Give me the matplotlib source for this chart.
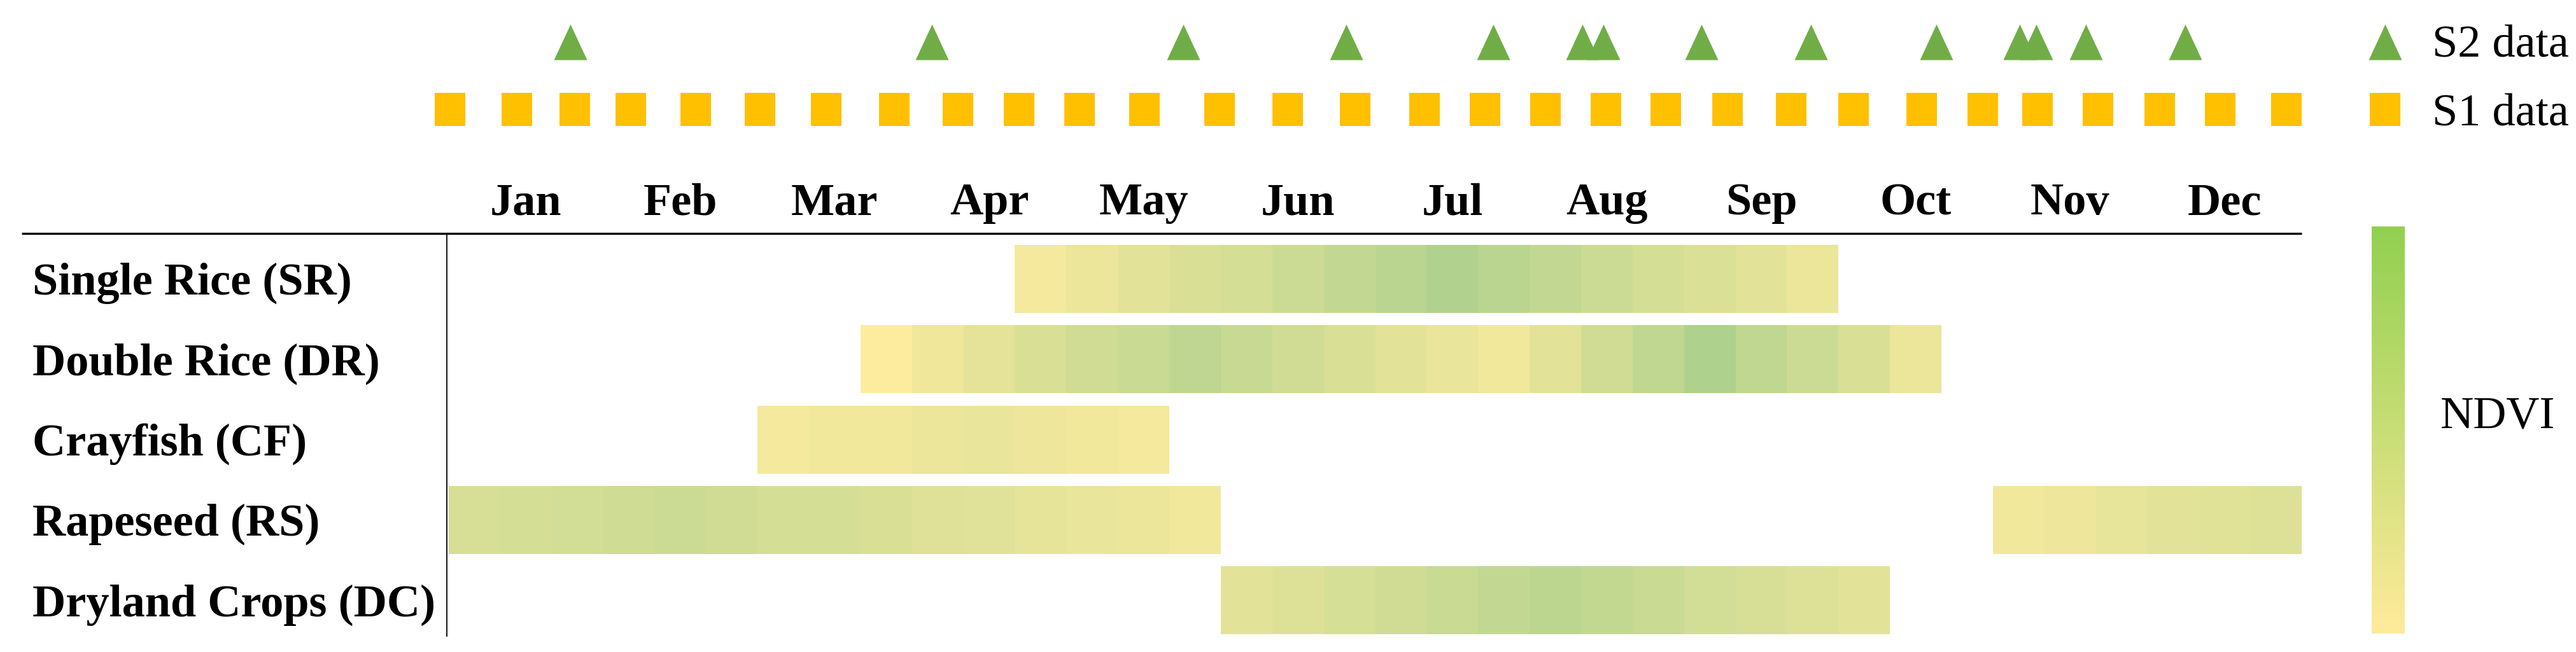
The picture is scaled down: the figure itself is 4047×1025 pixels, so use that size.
# Crop calendar: NDVI per 10-day period + S1/S2 acquisition dates

import numpy as np
import matplotlib
matplotlib.use('Agg')
import matplotlib.pyplot as plt
from matplotlib.colors import LinearSegmentedColormap

months = ['Jan', 'Feb', 'Mar', 'Apr', 'May', 'Jun',
          'Jul', 'Aug', 'Sep', 'Oct', 'Nov', 'Dec']
crops = ['Single Rice (SR)', 'Double Rice (DR)', 'Crayfish (CF)',
         'Rapeseed (RS)', 'Dryland Crops (DC)']

# relative NDVI level (0 = low, 1 = high) per dekad, with first dekad of each run
sr_start = 11
sr_ndvi = [0.10, 0.20, 0.30, 0.40, 0.45, 0.55, 0.65, 0.75,
           0.85, 0.75, 0.65, 0.55, 0.45, 0.38, 0.30, 0.20]
dr_start = 8
dr_ndvi = [0.00, 0.15, 0.28, 0.40, 0.50, 0.58, 0.70, 0.60, 0.50, 0.40, 0.30,
           0.22, 0.12, 0.30, 0.50, 0.68, 0.88, 0.68, 0.55, 0.40, 0.20]
cf_start = 6
cf_ndvi = [0.10, 0.13, 0.14, 0.20, 0.23, 0.18, 0.14, 0.10]
rs_start = 0
rs_ndvi = [0.42, 0.45, 0.48, 0.52, 0.55, 0.50, 0.46, 0.46,
           0.40, 0.35, 0.33, 0.27, 0.23, 0.19, 0.14]
rs2_start = 30
rs2_ndvi = [0.14, 0.18, 0.24, 0.30, 0.32, 0.36]
dc_start = 15
dc_ndvi = [0.30, 0.36, 0.43, 0.50, 0.58, 0.65, 0.72,
           0.66, 0.58, 0.48, 0.42, 0.36, 0.30]

# acquisition dates, day of year
s1_doy = [0.2, 13.4, 24.8, 35.9, 48.6, 61.3, 74.3, 87.8, 100.3, 112.3,
          124.3, 137.0, 151.8, 165.3, 178.5, 192.2, 204.1, 216.1, 227.9, 239.8,
          251.9, 264.5, 276.7, 290.1, 302.2, 313.0, 324.9, 337.1, 349.0, 362.0]
s2_doy = [23.9, 95.2, 144.7, 176.8, 205.8, 223.3, 227.5, 246.8,
          268.3, 293.0, 309.4, 312.7, 322.5, 342.0]

runs = [[(sr_start, sr_ndvi)], [(dr_start, dr_ndvi)], [(cf_start, cf_ndvi)],
        [(rs_start, rs_ndvi), (rs2_start, rs2_ndvi)], [(dc_start, dc_ndvi)]]
grid = np.full((len(crops), 36), np.nan)
for i, row in enumerate(runs):
    for start, vals in row:
        grid[i, start:start + len(vals)] = vals

cell_cmap = LinearSegmentedColormap.from_list('cell', ['#FDEC9E', '#A3CD8B'])
bar_cmap = LinearSegmentedColormap.from_list('ndvi', ['#FFEB9C', '#92D050'])

plt.rcParams['font.family'] = ['Liberation Serif', 'DejaVu Serif']

W, H = 4047, 1025
fig = plt.figure(figsize=(W / 100, H / 100), dpi=100)
ax = fig.add_axes([0, 0, 1, 1])
ax.axis('off')

# layout in pixels -> data units (1 dekad wide, 1 row high)
x0, dek = 705, 2911 / 36
y0, row = 438.5, 126.3
ax.set_xlim(-x0 / dek, (W - x0) / dek)
ax.set_ylim((H - y0) / row, -y0 / row)

bar_h = 0.847
edges = np.arange(37)
for i in range(len(crops)):
    ax.pcolormesh(edges, [i - bar_h / 2, i + bar_h / 2],
                  np.ma.masked_invalid(grid[i:i + 1]),
                  cmap=cell_cmap, vmin=0, vmax=1)

fsize = 52
lab_x = 51 / W
blend = matplotlib.transforms.blended_transform_factory(fig.transFigure, ax.transData)
for i, name in enumerate(crops):
    ax.text(lab_x, i + 0.194, name, transform=blend, fontsize=fsize,
            fontweight='bold', ha='left', va='baseline')

month_y = (337 - y0) / row
for m, name in enumerate(months):
    ax.text(3 * m + 1.5, month_y, name, fontsize=fsize, fontweight='bold',
            ha='center', va='baseline')

# table rules
line_y = (367 - y0) / row
ax.plot([(34 - x0) / dek, 36], [line_y, line_y], color='black', lw=2.4,
        solid_capstyle='butt')
ax.plot([-0.04, -0.04], [line_y, (1000 - y0) / row], color='black', lw=1.3)

# acquisition markers
tri = [(-0.464, -0.5), (0.464, -0.5), (0, 0.5)]
sq = [(-0.47, -0.5), (0.47, -0.5), (0.47, 0.5), (-0.47, 0.5)]
s2_y = (66 - y0) / row
s1_y = (172 - y0) / row
s2_x = np.array(s2_doy) * 36 / 365
s1_x = np.array(s1_doy) * 36 / 365
ax.plot(s2_x, [s2_y] * len(s2_x), ls='none', marker=tri, ms=40.3,
        color='#70AD47', mew=0)
ax.plot(s1_x, [s1_y] * len(s1_x), ls='none', marker=sq, ms=37.4,
        color='#FFC000', mew=0)

# legend
leg_x = (3747 - x0) / dek
txt_x = (3821 - x0) / dek
ax.plot([leg_x], [s2_y], ls='none', marker=tri, ms=40.3, color='#70AD47', mew=0)
ax.plot([leg_x], [s1_y], ls='none', marker=sq, ms=37.4, color='#FFC000', mew=0)
ax.text(txt_x, (90 - y0) / row, 'S2 data', fontsize=fsize, va='baseline')
ax.text(txt_x, (197 - y0) / row, 'S1 data', fontsize=fsize, va='baseline')

# NDVI colour bar
cax = fig.add_axes([3726 / W, 1 - 996 / H, 52 / W, 640 / H])
cax.imshow(np.linspace(1, 0, 256)[:, None], aspect='auto', cmap=bar_cmap,
           extent=[0, 1, 0, 1])
cax.axis('off')
ax.text((3834 - x0) / dek, (672 - y0) / row, 'NDVI', fontsize=fsize,
        va='baseline')

fig.savefig('out.png', dpi=100)
